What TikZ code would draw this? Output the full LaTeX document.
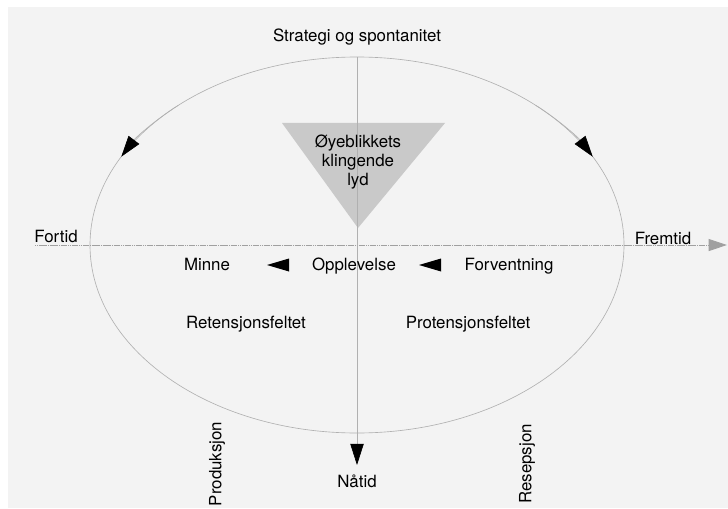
\documentclass[tikz,border=0pt]{standalone}
\usepackage{fontspec}
\setmainfont{TeX Gyre Heros}
\usepackage{xcolor}
\usetikzlibrary{arrows.meta}
\definecolor{paper}{HTML}{F3F3F3}
\definecolor{rim}{HTML}{B0B0B0}
\definecolor{axisgray}{HTML}{A0A0A0}
\definecolor{wedge}{HTML}{C9C9C9}

\begin{document}
\begin{tikzpicture}[x=0.025cm, y=0.025cm,
  lbl/.style={font=\fontsize{12}{13.5}\selectfont, inner sep=0pt, anchor=base},
  rimline/.style={draw=rim, line width=0.45pt},
  blacktip/.style={-{Triangle[length=15pt, width=9.5pt, fill=black, color=black]}, rimline},
  timeaxis/.style={draw=axisgray, line width=0.6pt, dash pattern=on 1pt off 0.3pt,
    -{Triangle[length=13pt, width=8.5pt, fill=axisgray, color=axisgray]}}
]
  \useasboundingbox (0,0) rectangle (728,508);
  \fill[paper] (8,0) rectangle (728,501);

  % ring and the two axes
  \coordinate (centre) at (357,263);
  \coordinate (top) at (357,451);
  \draw[rimline] (centre) ellipse[x radius=267, y radius=188];
  \coordinate (past) at (35,263);
  \coordinate (future) at (727,263);
  \coordinate (now) at (357,43);
  \draw[timeaxis] (past) -- (future);

  % the sounding moment
  \fill[wedge] (282,385) -- (445,385) -- (358,280) -- cycle;
  \draw[blacktip] (top) -- (now);
  \node[lbl, anchor=center, align=center] (moment) at (358,346) {Øyeblikkets\\klingende\\lyd};

  % arrows running round the ring (short arcs, so only the tips show)
  \draw[blacktip] (centre) ++(132:267 and 188) arc[start angle=132, end angle=152, x radius=267, y radius=188];
  \draw[blacktip] (centre) ++(48:267 and 188) arc[start angle=48, end angle=28, x radius=267, y radius=188];

  \node[lbl] (strategy) at (357,466) {Strategi og spontanitet};
  \node[lbl] (fortid) at (56,266) {Fortid};
  \node[lbl] (fremtid) at (663,264) {Fremtid};

  \node[lbl] (minne) at (207,238) {Minne};
  \node[lbl] (opplevelse) at (354,238) {Opplevelse};
  \node[lbl] (forventning) at (509,238) {Forventning};
  \coordinate (back1) at (278,243);
  \coordinate (back2) at (430,243);
  \fill (back1) +(-11,0) -- +(11,6.5) -- +(11,-6.5) -- cycle;
  \fill (back2) +(-11,0) -- +(11,6.5) -- +(11,-6.5) -- cycle;

  \node[lbl] (retensjon) at (246,180) {Retensjonsfeltet};
  \node[lbl] (protensjon) at (468,180) {Protensjonsfeltet};

  \node[lbl] (natid) at (357,21) {Nåtid};
  \node[lbl, anchor=center, rotate=90] (produksjon) at (217,44) {Produksjon};
  \node[lbl, anchor=center, rotate=90] (resepsjon) at (527,44) {Resepsjon};
\end{tikzpicture}
\end{document}
